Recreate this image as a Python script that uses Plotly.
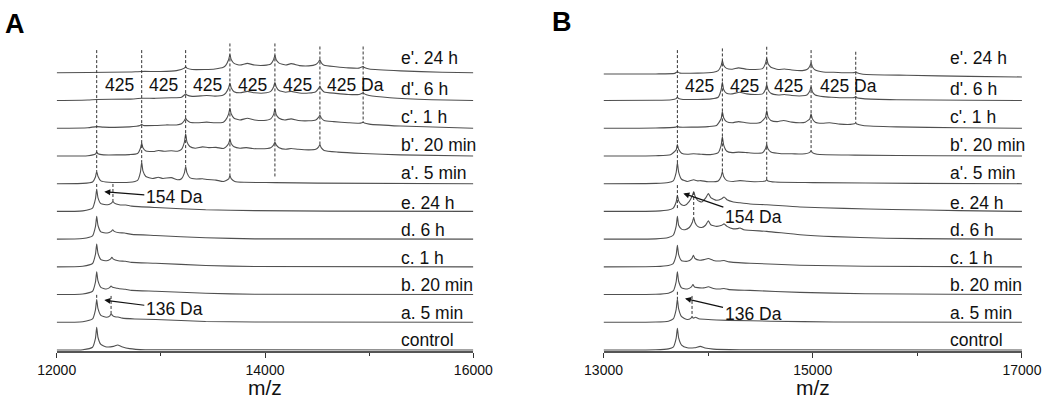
import plotly.graph_objects as go

# trace labels, bottom to top
labels = ["control", "a. 5 min", "b. 20 min", "c. 1 h", "d. 6 h", "e. 24 h",
          "a'. 5 min", "b'. 20 min", "c'. 1 h", "d'. 6 h", "e'. 24 h"]

# ---------------- panel A spectra: (m/z, relative intensity) ----------------
A_control = [(12000, 0), (12250, 0.01), (12344, 0.1), (12372, 0.42), (12384, 0.82), (12396, 0.46), (12424, 0.2),
             (12480, 0.11), (12545, 0.13), (12585, 0.18), (12625, 0.12), (12700, 0.05), (12850, 0.01), (16000, 0)]
A_a = [(12000, 0), (12250, 0.02), (12344, 0.12), (12372, 0.45), (12384, 0.82), (12396, 0.5), (12424, 0.25),
       (12475, 0.18), (12508, 0.22), (12522, 0.31), (12536, 0.24), (12570, 0.19), (12590, 0.19), (12630, 0.15),
       (12750, 0.12), (12950, 0.1), (13430, 0.03), (13900, 0.01), (16000, 0)]
A_b = [(12000, 0), (12250, 0.02), (12344, 0.12), (12372, 0.45), (12384, 0.82), (12396, 0.5), (12424, 0.26),
       (12475, 0.2), (12508, 0.25), (12522, 0.31), (12536, 0.26), (12575, 0.23), (12600, 0.21), (12660, 0.19),
       (12720, 0.15), (12950, 0.12), (13430, 0.05), (13900, 0.01), (16000, 0)]
A_c = [(12000, 0), (12250, 0.02), (12344, 0.12), (12372, 0.45), (12384, 0.82), (12396, 0.5), (12424, 0.26),
       (12480, 0.22), (12516, 0.28), (12530, 0.34), (12544, 0.28), (12590, 0.22), (12660, 0.2), (12720, 0.16),
       (12950, 0.13), (13430, 0.05), (13900, 0.01), (16000, 0)]
A_d = [(12000, 0), (12250, 0.02), (12344, 0.12), (12372, 0.45), (12384, 0.82), (12396, 0.5), (12424, 0.26),
       (12485, 0.22), (12524, 0.28), (12538, 0.34), (12552, 0.28), (12600, 0.23), (12650, 0.22), (12720, 0.17),
       (12950, 0.13), (13430, 0.05), (13900, 0.01), (16000, 0)]
A_e = [(12000, 0), (12250, 0.02), (12344, 0.12), (12372, 0.45), (12384, 0.8), (12396, 0.5), (12424, 0.28),
       (12490, 0.24), (12526, 0.3), (12540, 0.36), (12554, 0.3), (12600, 0.24), (12630, 0.23), (12665, 0.23),
       (12720, 0.19), (12950, 0.14), (13430, 0.06), (13900, 0.03), (14600, 0.01), (16000, 0)]
A_a2 = [(12000, 0), (12250, 0.01), (12344, 0.06), (12372, 0.24), (12384, 0.45), (12396, 0.27), (12424, 0.1),
        (12500, 0.05), (12700, 0.05), (12776, 0.12), (12804, 0.42), (12816, 0.78), (12828, 0.46), (12856, 0.26),
        (12920, 0.19), (12975, 0.23), (13020, 0.19), (13100, 0.22), (13160, 0.14), (13198, 0.18), (13226, 0.39),
        (13238, 0.63), (13250, 0.4), (13278, 0.22), (13340, 0.17), (13400, 0.18), (13450, 0.15), (13530, 0.13),
        (13600, 0.08), (13651, 0.17), (13663, 0.3), (13675, 0.18), (13710, 0.08), (13800, 0.05), (14095, 0.04),
        (14500, 0.02), (16000, 0)]
A_b2 = [(12000, 0), (12300, 0.01), (12372, 0.07), (12384, 0.14), (12396, 0.08), (12450, 0.04), (12700, 0.05),
        (12776, 0.09), (12804, 0.28), (12816, 0.47), (12828, 0.3), (12856, 0.18), (12930, 0.16), (12975, 0.2),
        (13030, 0.17), (13100, 0.19), (13160, 0.17), (13198, 0.24), (13226, 0.5), (13238, 0.8), (13250, 0.52),
        (13278, 0.34), (13330, 0.28), (13400, 0.33), (13460, 0.3), (13530, 0.31), (13600, 0.27), (13623, 0.32),
        (13651, 0.45), (13663, 0.59), (13675, 0.45), (13703, 0.33), (13760, 0.28), (13820, 0.3), (13880, 0.27),
        (13960, 0.26), (14055, 0.3), (14083, 0.4), (14095, 0.5), (14107, 0.4), (14135, 0.3), (14200, 0.24),
        (14250, 0.27), (14320, 0.24), (14420, 0.22), (14487, 0.24), (14515, 0.33), (14527, 0.41), (14539, 0.3),
        (14567, 0.2), (14700, 0.14), (14942, 0.09), (15300, 0.04), (16000, 0)]
A_c2 = [(12000, 0), (12300, 0.02), (12384, 0.06), (12450, 0.04), (12700, 0.05), (12800, 0.1), (12816, 0.14),
        (12832, 0.1), (12950, 0.1), (13050, 0.12), (13150, 0.12), (13198, 0.16), (13226, 0.28), (13238, 0.36),
        (13250, 0.29), (13278, 0.22), (13350, 0.2), (13440, 0.22), (13520, 0.2), (13600, 0.22), (13623, 0.3),
        (13651, 0.52), (13663, 0.72), (13675, 0.52), (13703, 0.36), (13760, 0.3), (13830, 0.36), (13900, 0.3),
        (13990, 0.28), (14055, 0.34), (14083, 0.5), (14095, 0.7), (14107, 0.5), (14135, 0.36), (14190, 0.3),
        (14250, 0.34), (14320, 0.28), (14420, 0.27), (14487, 0.3), (14515, 0.4), (14527, 0.48), (14539, 0.38),
        (14567, 0.28), (14660, 0.24), (14800, 0.2), (14902, 0.18), (14930, 0.2), (14942, 0.22), (14954, 0.19),
        (15000, 0.15), (15300, 0.08), (16000, 0)]
A_d2 = [(12000, 0), (12300, 0.02), (12384, 0.04), (12700, 0.05), (12816, 0.08), (12950, 0.08), (13100, 0.1),
        (13198, 0.12), (13226, 0.2), (13238, 0.24), (13250, 0.2), (13300, 0.15), (13440, 0.18), (13520, 0.16),
        (13600, 0.2), (13623, 0.27), (13651, 0.46), (13663, 0.63), (13675, 0.46), (13703, 0.32), (13760, 0.28),
        (13830, 0.33), (13900, 0.28), (13990, 0.27), (14055, 0.33), (14083, 0.5), (14095, 0.66), (14107, 0.5),
        (14135, 0.36), (14200, 0.3), (14250, 0.33), (14330, 0.27), (14420, 0.27), (14487, 0.32), (14515, 0.44),
        (14527, 0.52), (14539, 0.42), (14567, 0.31), (14680, 0.26), (14800, 0.22), (14902, 0.22), (14930, 0.26),
        (14942, 0.28), (14954, 0.24), (15000, 0.18), (15200, 0.1), (15600, 0.03), (16000, 0)]
A_e2 = [(12000, 0), (12300, 0.01), (12700, 0.03), (12816, 0.05), (13000, 0.05), (13150, 0.08), (13226, 0.17),
        (13238, 0.22), (13250, 0.17), (13300, 0.12), (13420, 0.12), (13520, 0.14), (13600, 0.2), (13623, 0.27),
        (13651, 0.48), (13663, 0.66), (13675, 0.48), (13703, 0.34), (13760, 0.28), (13830, 0.34), (13900, 0.28),
        (13990, 0.27), (14055, 0.32), (14083, 0.48), (14095, 0.63), (14107, 0.47), (14135, 0.35), (14200, 0.28),
        (14250, 0.33), (14330, 0.26), (14420, 0.25), (14487, 0.3), (14515, 0.4), (14527, 0.47), (14539, 0.37),
        (14567, 0.27), (14680, 0.22), (14800, 0.18), (14902, 0.17), (14930, 0.21), (14942, 0.23), (14954, 0.19),
        (15000, 0.14), (15300, 0.07), (15700, 0.02), (16000, 0)]

# ---------------- panel B spectra ----------------
B_control = [(13000, 0), (13500, 0.01), (13620, 0.04), (13666, 0.1), (13694, 0.42), (13706, 0.78), (13718, 0.44),
             (13746, 0.18), (13800, 0.08), (13870, 0.08), (13925, 0.13), (13970, 0.07), (14050, 0.03), (14300, 0.01),
             (17000, 0)]
B_a = [(13000, 0), (13500, 0.01), (13620, 0.04), (13666, 0.12), (13694, 0.46), (13706, 0.84), (13718, 0.48),
       (13746, 0.2), (13800, 0.1), (13834, 0.14), (13846, 0.2), (13858, 0.15), (13880, 0.18), (13910, 0.13),
       (14000, 0.1), (14200, 0.07), (14600, 0.04), (15200, 0.01), (17000, 0)]
B_b = [(13000, 0), (13500, 0.01), (13620, 0.05), (13666, 0.13), (13694, 0.46), (13706, 0.82), (13718, 0.48),
       (13746, 0.24), (13800, 0.2), (13840, 0.28), (13855, 0.36), (13870, 0.27), (13920, 0.24), (13960, 0.24),
       (14002, 0.28), (14050, 0.22), (14110, 0.2), (14152, 0.22), (14200, 0.18), (14400, 0.15), (14878, 0.08),
       (15500, 0.03), (16300, 0.01), (17000, 0)]
B_c = [(13000, 0), (13500, 0.01), (13620, 0.05), (13666, 0.12), (13694, 0.42), (13706, 0.78), (13718, 0.44),
       (13746, 0.22), (13800, 0.2), (13844, 0.3), (13859, 0.42), (13874, 0.3), (13920, 0.24), (13960, 0.26),
       (14002, 0.3), (14050, 0.23), (14110, 0.21), (14152, 0.23), (14200, 0.18), (14400, 0.13), (14878, 0.06),
       (15500, 0.02), (17000, 0)]
B_d = [(13000, 0), (13500, 0.01), (13620, 0.06), (13666, 0.14), (13694, 0.46), (13706, 0.82), (13718, 0.5),
       (13746, 0.36), (13779, 0.34), (13820, 0.42), (13850, 0.62), (13862, 0.78), (13874, 0.6), (13900, 0.46),
       (13938, 0.42), (13975, 0.5), (14002, 0.66), (14025, 0.52), (14082, 0.46), (14130, 0.5), (14152, 0.55),
       (14180, 0.46), (14241, 0.37), (14280, 0.38), (14305, 0.4), (14340, 0.34), (14560, 0.28), (14878, 0.16),
       (15200, 0.09), (15700, 0.03), (16300, 0.01), (17000, 0)]
B_e = [(13000, 0), (13500, 0.01), (13620, 0.05), (13666, 0.12), (13694, 0.34), (13706, 0.58), (13718, 0.38),
       (13746, 0.24), (13779, 0.22), (13820, 0.36), (13850, 0.58), (13862, 0.72), (13874, 0.56), (13900, 0.4),
       (13938, 0.34), (13975, 0.48), (14002, 0.64), (14025, 0.5), (14082, 0.4), (14130, 0.46), (14152, 0.52),
       (14180, 0.42), (14241, 0.34), (14305, 0.31), (14400, 0.27), (14560, 0.24), (14878, 0.16), (15300, 0.11),
       (15757, 0.07), (16400, 0.03), (17000, 0)]
B_a2 = [(13000, 0), (13500, 0.01), (13620, 0.04), (13666, 0.1), (13694, 0.4), (13706, 0.75), (13718, 0.42),
        (13746, 0.16), (13800, 0.08), (13862, 0.14), (13900, 0.1), (13930, 0.11), (14000, 0.07), (14096, 0.1),
        (14124, 0.26), (14136, 0.44), (14148, 0.26), (14176, 0.12), (14240, 0.08), (14305, 0.11), (14369, 0.09),
        (14450, 0.07), (14548, 0.1), (14560, 0.14), (14572, 0.1), (14640, 0.06), (15000, 0.04), (16000, 0.01),
        (17000, 0)]
B_b2 = [(13000, 0), (13500, 0.01), (13640, 0.04), (13694, 0.22), (13706, 0.41), (13718, 0.24), (13746, 0.1),
        (13800, 0.06), (13860, 0.08), (13940, 0.06), (14020, 0.05), (14096, 0.12), (14124, 0.38), (14136, 0.69),
        (14148, 0.4), (14176, 0.18), (14230, 0.12), (14290, 0.14), (14370, 0.12), (14440, 0.1), (14520, 0.12),
        (14548, 0.26), (14560, 0.41), (14572, 0.26), (14600, 0.14), (14700, 0.08), (14800, 0.08), (14900, 0.07),
        (14972, 0.13), (14984, 0.2), (14996, 0.12), (15040, 0.06), (15400, 0.03), (16200, 0.01), (17000, 0)]
B_c2 = [(13000, 0), (13500, 0.01), (13690, 0.04), (13706, 0.07), (13722, 0.04), (13850, 0.04), (14000, 0.06),
        (14080, 0.1), (14124, 0.34), (14136, 0.6), (14148, 0.38), (14176, 0.24), (14230, 0.2), (14290, 0.24),
        (14360, 0.2), (14440, 0.18), (14504, 0.22), (14548, 0.4), (14560, 0.64), (14572, 0.42), (14600, 0.28),
        (14660, 0.24), (14720, 0.28), (14800, 0.22), (14880, 0.2), (14928, 0.22), (14972, 0.34), (14984, 0.52),
        (14996, 0.34), (15024, 0.22), (15090, 0.18), (15160, 0.2), (15260, 0.15), (15360, 0.14), (15399, 0.16),
        (15411, 0.19), (15423, 0.15), (15480, 0.1), (15800, 0.05), (16400, 0.02), (17000, 0)]
B_d2 = [(13000, 0), (13500, 0.01), (13650, 0.03), (13694, 0.07), (13706, 0.12), (13718, 0.07), (13760, 0.04),
        (13900, 0.04), (14030, 0.06), (14096, 0.12), (14124, 0.38), (14136, 0.66), (14148, 0.4), (14176, 0.26),
        (14230, 0.24), (14300, 0.3), (14370, 0.24), (14450, 0.22), (14520, 0.24), (14548, 0.4), (14560, 0.58),
        (14572, 0.4), (14600, 0.26), (14670, 0.2), (14730, 0.22), (14800, 0.18), (14900, 0.17), (14944, 0.2),
        (14972, 0.34), (14984, 0.5), (14996, 0.32), (15024, 0.2), (15100, 0.14), (15180, 0.12), (15300, 0.1),
        (15399, 0.11), (15411, 0.14), (15423, 0.1), (15480, 0.07), (15800, 0.03), (16500, 0.01), (17000, 0)]
B_e2 = [(13000, -0.04), (13500, -0.04), (13680, -0.02), (13706, 0.04), (13730, -0.01), (13900, -0.01),
        (14050, 0.02), (14096, 0.08), (14124, 0.26), (14136, 0.44), (14148, 0.27), (14176, 0.16), (14230, 0.13),
        (14290, 0.18), (14370, 0.13), (14450, 0.12), (14520, 0.15), (14548, 0.34), (14560, 0.52), (14572, 0.34),
        (14600, 0.2), (14670, 0.12), (14730, 0.14), (14800, 0.1), (14900, 0.08), (14944, 0.12), (14972, 0.24),
        (14984, 0.36), (14996, 0.22), (15024, 0.1), (15100, 0.03), (15200, 0.02), (15330, 0.0), (15399, 0.01),
        (15411, 0.04), (15423, 0.0), (15480, -0.05), (15900, -0.09), (16500, -0.13), (17000, -0.15)]

A_spectra = [A_control, A_a, A_b, A_c, A_d, A_e, A_a2, A_b2, A_c2, A_d2, A_e2]
B_spectra = [B_control, B_a, B_b, B_c, B_d, B_e, B_a2, B_b2, B_c2, B_d2, B_e2]

# dashed marker lines: m/z, top, bottom (in stacked-intensity units)
A_dash_x = [12384, 12816, 13238, 13663, 14095, 14527, 14942, 12384, 12540, 12384, 12522]
A_dash_top = [10.82, 10.82, 10.82, 11.06, 11.06, 10.95, 10.95, 5.99, 5.99, 1.99, 1.95]
A_dash_bot = [6.45, 6.78, 6.63, 6.3, 6.25, 7.41, 8.2, 5.8, 5.36, 1.82, 1.31]
B_dash_x = [13706, 14136, 14560, 14984, 15411, 13706, 13862, 13706, 13846]
B_dash_top = [10.82, 10.88, 10.94, 10.82, 10.76, 5.95, 5.7, 2.1, 1.95]
B_dash_bot = [6.75, 6.44, 6.14, 7.2, 8.19, 5.05, 4.78, 1.84, 1.2]

A_425_x = [12600, 13027, 13450, 13879, 14311]
B_425_x = [13921, 14348, 14772]

LINE = "#505050"
FONT = "Arial, Liberation Sans, sans-serif"

fig = go.Figure()


def add_panel(spectra, dx, dtop, dbot, xa, ya):
    for i, spec in enumerate(spectra):
        fig.add_trace(go.Scatter(x=[p[0] for p in spec], y=[p[1] + i for p in spec], mode="lines",
                                 line=dict(color=LINE, width=1.1, shape="spline", smoothing=0.5),
                                 xaxis=xa, yaxis=ya, showlegend=False, hoverinfo="skip"))
    xs, ys = [], []
    for x, t, b in zip(dx, dtop, dbot):
        xs += [x, x, None]
        ys += [t, b, None]
    fig.add_trace(go.Scatter(x=xs, y=ys, mode="lines", line=dict(color="#333", width=1, dash="3px,2px"),
                             xaxis=xa, yaxis=ya, showlegend=False, hoverinfo="skip"))


add_panel(A_spectra, A_dash_x, A_dash_top, A_dash_bot, "x", "y")
add_panel(B_spectra, B_dash_x, B_dash_top, B_dash_bot, "x2", "y2")

TXT = dict(size=17.5, color="#111")
ann = []
label_dy = [0.36, 0.34, 0.33, 0.33, 0.32, 0.32, 0.4, 0.4, 0.4, 0.42, 0.52]
for i, lab in enumerate(labels):
    ann.append(dict(x=15290, y=i + label_dy[i], xref="x", yref="y", text=lab, showarrow=False,
                    xanchor="left", yanchor="middle", font=TXT))
    ann.append(dict(x=16293, y=i + label_dy[i], xref="x2", yref="y2", text=lab, showarrow=False,
                    xanchor="left", yanchor="middle", font=TXT))
for x in A_425_x:
    ann.append(dict(x=x, y=9.56, xref="x", yref="y", text="425", showarrow=False, font=TXT))
ann.append(dict(x=14575, y=9.56, xref="x", yref="y", text="425 Da", showarrow=False, xanchor="left", font=TXT))
for x in B_425_x:
    ann.append(dict(x=x, y=9.52, xref="x2", yref="y2", text="425", showarrow=False, font=TXT))
ann.append(dict(x=15053, y=9.52, xref="x2", yref="y2", text="425 Da", showarrow=False, xanchor="left", font=TXT))

arrows = [("x", "y", 12457, 5.71, 70, 5.6, "154 Da"), ("x", "y", 12457, 1.8, 70, 9, "136 Da"),
          ("x2", "y2", 13763, 5.65, 70, 24, "154 Da"), ("x2", "y2", 13779, 1.86, 68, 16, "136 Da")]
for xr, yr, x, y, ax, ay, t in arrows:
    ann.append(dict(x=x, y=y, xref=xr, yref=yr, text=t, showarrow=True, ax=ax, ay=ay, arrowhead=2,
                    arrowsize=1, arrowwidth=1.2, arrowcolor="#111", font=TXT))

for cx in [(0.054 + 0.4508) / 2, (0.5748 + 0.9733) / 2]:
    ann.append(dict(x=cx, y=(413 - 387) / 413, xref="paper", yref="paper", text="m/z", showarrow=False,
                    font=dict(size=21, color="#111"), xanchor="center", yanchor="middle"))
ann.append(dict(x=15 / 1050, y=(413 - 24) / 413, xref="paper", yref="paper", text="<b>A</b>",
                showarrow=False, font=dict(size=27, color="#000"), xanchor="center", yanchor="middle"))
ann.append(dict(x=562 / 1050, y=(413 - 22) / 413, xref="paper", yref="paper", text="<b>B</b>",
                showarrow=False, font=dict(size=27, color="#000"), xanchor="center", yanchor="middle"))


def xaxis(dom, rng, anchor):
    return dict(domain=dom, range=rng, anchor=anchor, tickvals=[rng[0], rng[0] + 2000, rng[1]], tickformat="d",
                ticks="outside", ticklen=5, tickwidth=1.3, tickcolor="#333", showline=True, linecolor="#555",
                linewidth=2, showgrid=False, zeroline=False, tickfont=dict(size=14, color="#111"),
                minor=dict(dtick=1000, tick0=rng[0], ticks="outside", ticklen=3, tickcolor="#333"))


ydom = [(413 - 351) / 413, (413 - 40) / 413]
fig.update_layout(
    width=1050, height=413, margin=dict(l=0, r=0, t=0, b=0, autoexpand=False),
    paper_bgcolor="white", plot_bgcolor="white", font=dict(family=FONT),
    xaxis=xaxis([0.054, 0.4508], [12000, 16000], "y"),
    xaxis2=xaxis([0.5748, 0.9733], [13000, 17000], "y2"),
    yaxis=dict(domain=ydom, range=[-0.036, 11.184], visible=False, anchor="x"),
    yaxis2=dict(domain=ydom, range=[-0.036, 11.184], visible=False, anchor="x2"),
    annotations=ann,
)

fig.write_html("out.html", config={"displayModeBar": False},
               post_script="document.body.style.margin='0';")
